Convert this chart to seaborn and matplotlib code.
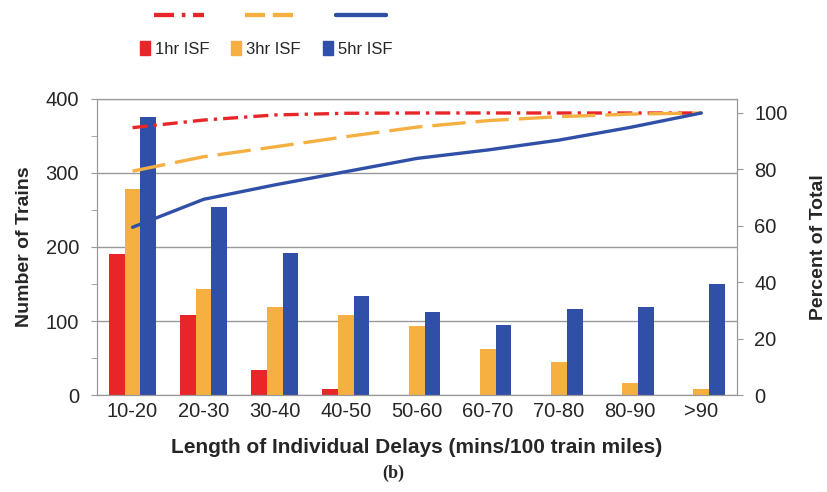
import numpy as np
import pandas as pd
import seaborn as sns
import matplotlib.pyplot as plt
from matplotlib.lines import Line2D
from matplotlib.patches import Patch
from matplotlib.ticker import MultipleLocator

# ===== Data =====
categories = ["10-20", "20-30", "30-40", "40-50", "50-60", "60-70", "70-80", "80-90", ">90"]
series = ["1hr ISF", "3hr ISF", "5hr ISF"]
trains_1hr = [190, 108, 34, 8, 0, 0, 0, 0, 0]
trains_3hr = [278, 143, 119, 108, 93, 62, 45, 16, 8]
trains_5hr = [376, 254, 192, 134, 112, 95, 116, 119, 150]
pct_1hr = [94.8, 97.5, 99.3, 99.9, 100, 100, 100, 100, 100]
pct_3hr = [79.4, 84.5, 88.0, 91.6, 95.0, 97.3, 98.7, 99.6, 100]
pct_5hr = [59.5, 69.4, 74.5, 79.2, 83.9, 86.9, 90.4, 94.9, 100]
colors = ["#E8262A", "#F5B041", "#3050A8"]

df = pd.DataFrame({
    "delay": categories * 3,
    "series": np.repeat(series, len(categories)),
    "trains": trains_1hr + trains_3hr + trains_5hr,
})

sns.set_style("white")
plt.rcParams["font.family"] = ["Liberation Sans", "DejaVu Sans"]

red_dash = [4.5, 1.8, 1.0, 1.8]
yel_dash = [10, 3]

fig = plt.figure(figsize=(8.27, 4.92), dpi=100)
ax = fig.add_axes([0.1173, 0.197, 0.7737, 0.602])

sns.barplot(data=df, x="delay", y="trains", hue="series", palette=colors,
            width=0.66, saturation=1, linewidth=0, legend=False, ax=ax)
ax.set_ylim(0, 400)
ax.set_xlim(-0.5, len(categories) - 0.5)
ax.yaxis.set_major_locator(MultipleLocator(100))
ax.yaxis.set_minor_locator(MultipleLocator(50))
ax.grid(axis="y", color="#999999", lw=1)
ax.set_axisbelow(True)
ax.tick_params(axis="y", which="both", direction="out", left=True, length=4, color="#999999",
               labelsize=14.5, pad=9)
ax.tick_params(axis="x", labelsize=14.5, length=0, pad=5)
for s in ax.spines.values():
    s.set_color("#999999")
ax.set_ylabel("Number of Trains", fontsize=14, fontweight="bold", labelpad=9)
ax.set_xlabel("Length of Individual Delays (mins/100 train miles)", fontsize=15, fontweight="bold", labelpad=12)

# ===== Cumulative percent lines =====
ax2 = ax.twinx()
x = np.arange(len(categories))
sns.lineplot(x=x, y=pct_1hr, color=colors[0], lw=2.4, ax=ax2)
sns.lineplot(x=x, y=pct_3hr, color=colors[1], lw=2.4, ax=ax2)
sns.lineplot(x=x, y=pct_5hr, color=colors[2], lw=2.4, ax=ax2)
ax2.lines[0].set_dashes(red_dash)
ax2.lines[1].set_dashes(yel_dash)
ax2.set_ylim(0, 105)
ax2.set_yticks([0, 20, 40, 60, 80, 100])
ax2.tick_params(axis="y", right=True, direction="out", length=4, color="#999999",
                labelsize=14.5, pad=8.5)
for s in ax2.spines.values():
    s.set_color("#999999")
ax2.set_ylabel("Percent of Total", fontsize=14, fontweight="bold", labelpad=16)

# ===== Legend =====
line_handles = [
    Line2D([], [], color=colors[0], lw=3, dashes=[4.8, 1.9, 0.8, 1.9]),
    Line2D([], [], color=colors[1], lw=3, dashes=[4.8, 1.9]),
    Line2D([], [], color=colors[2], lw=3),
]
leg1 = fig.legend(line_handles, ["", "", ""], ncol=3, loc="center", bbox_to_anchor=(0.326, 0.967),
                  frameon=False, handlelength=3.6, columnspacing=2.95, handletextpad=0)
patch_handles = [Patch(color=c) for c in colors]
leg2 = fig.legend(patch_handles, series, ncol=3, loc="center", bbox_to_anchor=(0.3215, 0.9),
                  frameon=False, fontsize=12, handlelength=0.6, handleheight=0.9,
                  handletextpad=0.3, columnspacing=1.32)
fig.add_artist(leg1)

fig.text(0.475, 0.037, "(b)", ha="center", va="center", fontsize=13, fontweight="bold",
         family=["Liberation Serif", "DejaVu Serif"])

fig.savefig("out.png", dpi=100)
